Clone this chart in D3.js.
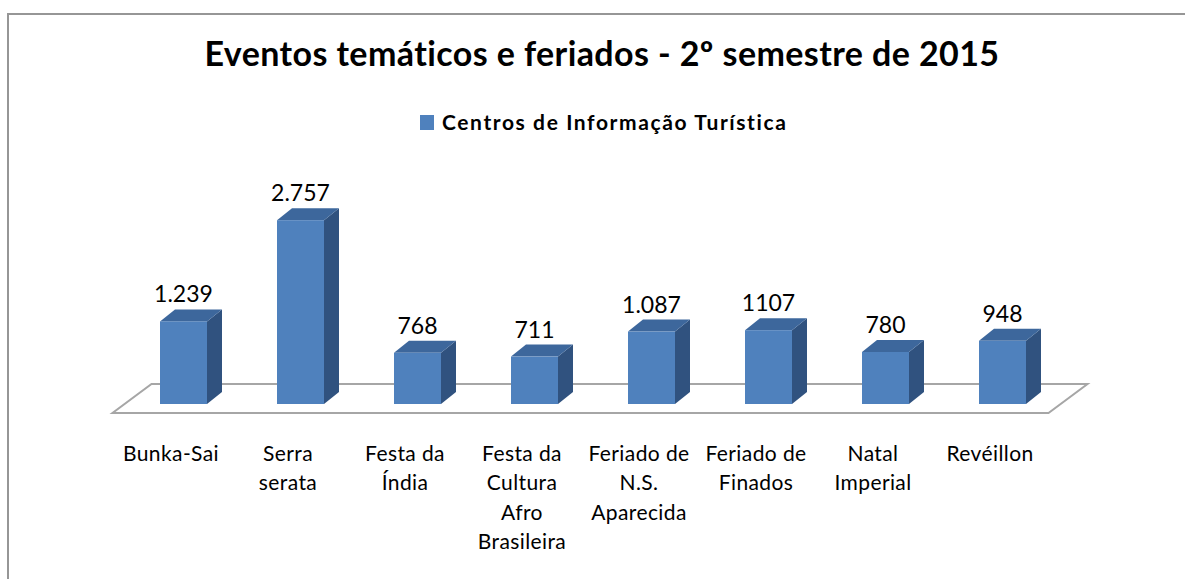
<!DOCTYPE html>
<html>
<head>
<meta charset="utf-8">
<script src="https://cdn.jsdelivr.net/npm/d3@7"></script>
<style>
  body { margin: 0; background: #fff; }
  text { font-family: Lato, "Open Sans", sans-serif; fill: #000; }
</style>
</head>
<body>
<svg id="chart" width="1185" height="579"></svg>
<script>
// data
var categories = ["Bunka-Sai", "Serra\nserata", "Festa da\nÍndia", "Festa da\nCultura\nAfro\nBrasileira",
                  "Feriado de\nN.S.\nAparecida", "Feriado de\nFinados", "Natal\nImperial", "Revéillon"];
var values     = [1239, 2757, 768, 711, 1087, 1107, 780, 948];
var valueLabels = ["1.239", "2.757", "768", "711", "1.087", "1107", "780", "948"];
var seriesName = "Centros de Informação Turística";
var title      = "Eventos temáticos e feriados - 2º semestre de 2015";

var WIDTH = 1185, HEIGHT = 579;
var DEPTH = { dx: 15, dy: -12 };      // bar depth
var FLOOR = { dx: 39, dy: -29 };      // floor depth
var FRONT = { dx: -12.5, dy: 9 };     // shift from bar base to floor front edge

var svg = d3.select('#chart');

// chart border
svg.append('rect')
  .attr('x', 8).attr('y', 14)
  .attr('width', WIDTH + 20).attr('height', HEIGHT + 20)
  .attr('fill', '#fff')
  .attr('stroke', '#969696')
  .attr('stroke-width', 2);

var x = d3.scaleBand()
  .domain(categories)
  .range([125, 1061])
  .paddingInner(1 - 47 / 117)
  .paddingOuter((1 - 47 / 117) / 2);

var y = d3.scaleLinear().domain([0, 3000]).range([404, 204]);

// title
svg.append('text')
  .attr('x', 602).attr('y', 66)
  .attr('text-anchor', 'middle')
  .style('font-size', '34px')
  .style('font-weight', 'bold')
  .style('letter-spacing', '0.4px')
  .text(title);

// legend
var legend = svg.append('g').attr('transform', 'translate(420,115)');
legend.append('rect').attr('width', 14).attr('height', 15).attr('fill', '#4F81BD');
legend.append('text')
  .attr('x', 22).attr('y', 15)
  .style('font-size', '21px')
  .style('font-weight', 'bold')
  .style('letter-spacing', '1.6px')
  .text(seriesName);

// floor
var r = x.range();
var fy = y(0) + FRONT.dy;
var fl = r[0] + FRONT.dx, fr = r[1] + FRONT.dx;
var floorPts = [[fl, fy], [fr, fy], [fr + FLOOR.dx, fy + FLOOR.dy], [fl + FLOOR.dx, fy + FLOOR.dy]];
svg.append('path')
  .attr('d', 'M' + floorPts.join('L') + 'Z')
  .attr('fill', '#fff')
  .attr('stroke', '#a6a6a6')
  .attr('stroke-width', 2);

// bars
var bars = svg.selectAll('g.bar')
  .data(values)
  .enter().append('g')
  .attr('class', 'bar');

bars.each(function(d, i) {
  var g = d3.select(this);
  var x0 = x(categories[i]), x1 = x0 + x.bandwidth();
  var yt = y(d), yb = y(0);
  // side
  g.append('path')
    .attr('d', 'M' + [[x1, yb], [x1 + DEPTH.dx, yb + DEPTH.dy], [x1 + DEPTH.dx, yt + DEPTH.dy], [x1, yt]].join('L') + 'Z')
    .attr('fill', '#30527F');
  // top
  g.append('path')
    .attr('d', 'M' + [[x0, yt], [x1, yt], [x1 + DEPTH.dx, yt + DEPTH.dy], [x0 + DEPTH.dx, yt + DEPTH.dy]].join('L') + 'Z')
    .attr('fill', '#3D679C');
  // front
  g.append('rect')
    .attr('x', x0).attr('y', yt)
    .attr('width', x.bandwidth()).attr('height', yb - yt)
    .attr('fill', '#4F81BD');
  // value label
  g.append('text')
    .attr('x', x0 + x.bandwidth() / 2)
    .attr('y', yt + DEPTH.dy - 7)
    .attr('text-anchor', 'middle')
    .style('font-size', '23px')
    .text(valueLabels[i]);
});

// category labels
svg.selectAll('text.cat')
  .data(categories)
  .enter().append('text')
  .attr('class', 'cat')
  .attr('text-anchor', 'middle')
  .style('font-size', '21px')
  .style('letter-spacing', '0.4px')
  .attr('transform', d => 'translate(' + (x(d) + x.bandwidth() / 2 + FRONT.dx) + ',461)')
  .each(function(d) {
    var t = d3.select(this);
    d.split('\n').forEach(function(line, k) {
      t.append('tspan').attr('x', 0).attr('y', k * 29.3).text(line);
    });
  });
</script>
</body>
</html>
